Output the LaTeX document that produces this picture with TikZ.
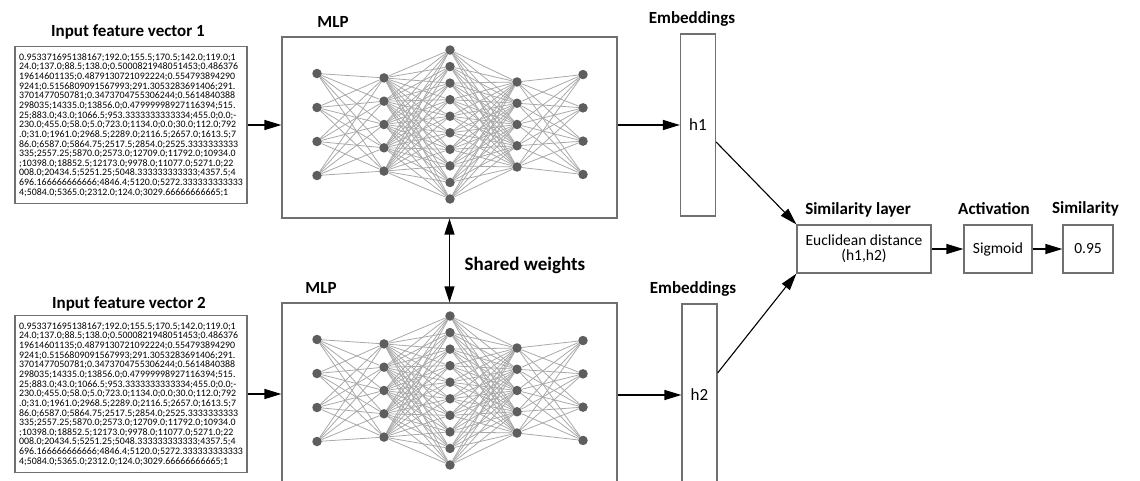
\documentclass[tikz,border=0pt]{standalone}
\usepackage{fontspec}
\setmainfont{Carlito}
\usepackage{tikz}
\usetikzlibrary{arrows.meta,positioning,backgrounds}
\definecolor{frame}{HTML}{707070}
\definecolor{neuron}{HTML}{5E5E5E}
\definecolor{synapse}{HTML}{A9A9A9}

\newcommand{\featvec}{0.953371695138167;192.0;155.5;170.5;142.0;119.0;1\\
24.0;137.0;88.5;138.0;0.5000821948051453;0.486376\\
19614601135;0.4879130721092224;0.554793894290\\
9241;0.5156809091567993;291.3053283691406;291.\\
3701477050781;0.3473704755306244;0.5614840388\\
298035;14335.0;13856.0;0.47999998927116394;515.\\
25;883.0;43.0;1066.5;953.3333333333334;455.0;0.0;-\\
230.0;455.0;58.0;5.0;723.0;1134.0;0.0;30.0;112.0;792\\
.0;31.0;1961.0;2968.5;2289.0;2116.5;2657.0;1613.5;7\\
86.0;6587.0;5864.75;2517.5;2854.0;2525.3333333333\\
335;2557.25;5870.0;2573.0;12709.0;11792.0;10934.0\\
;10398.0;18852.5;12173.0;9978.0;11077.0;5271.0;22\\
008.0;20434.5;5251.25;5048.333333333333;4357.5;4\\
696.166666666666;4846.4;5120.0;5272.333333333333\\
4;5084.0;5365.0;2312.0;124.0;3029.66666666665;1}

\begin{document}
\begin{tikzpicture}[
  x=1pt, y=-1pt,
  font=\fontsize{15.5}{18}\selectfont,
  box/.style={draw=frame,line width=1.2pt,inner sep=0pt,align=center},
  vec/.style={box,minimum width=232pt,minimum height=157pt,
              font=\fontsize{9.9}{9.64}\selectfont,align=left},
  mlp/.style={box,minimum width=335pt,minimum height=181pt},
  emb/.style={box,minimum width=35pt,minimum height=182pt,
              font=\fontsize{17}{20}\selectfont},
  blk/.style={box,minimum height=48pt},
  lbl/.style={font=\fontsize{17}{20}\selectfont\bfseries,inner sep=0pt},
  neur/.style={circle,fill=neuron,minimum size=9.5pt,inner sep=0pt},
  ar/.style={-{Triangle[length=17pt,width=10pt]},line width=1.3pt},
  dar/.style={{Triangle[length=16pt,width=10pt]}-{Triangle[length=16pt,width=10pt]},line width=1.3pt},
]
\useasboundingbox (0,0) rectangle (1140,481);

% ---- inputs
\node[lbl] (t-inp1) at (128,32) {Input feature vector 1};
\node[vec] (inp1) at (131,125) {\featvec};
\node[lbl] (t-inp2) at (129,304) {Input feature vector 2};
\node[vec] (inp2) at (131,394) {\featvec};

% ---- the two MLPs
\node[lbl] (t-mlp1) at (333,22) {MLP};
\node[mlp] (mlp1) at (449.5,127.5) {};
\node[lbl] (t-mlp2) at (321,288) {MLP};
\node[mlp] (mlp2) at (449.5,393.5) {};

\foreach \m/\cy in {1/124.5,2/390.5}{
  \foreach \l/\x/\n/\d in {1/-133/4/34,2/-66/5/23.3,3/0/10/16.55,4/67/5/21.25,5/133/4/33.3}
    \foreach \i in {1,...,\n}
      \node[neur] (n\m-\l-\i) at ({450+\x},{\cy+(\i-(\n+1)/2)*\d}) {};
  \begin{scope}[on background layer]
    \foreach \a/\na/\b/\nb in {1/4/2/5,2/5/3/10,3/10/4/5,4/5/5/4}
      \foreach \i in {1,...,\na}
        \foreach \j in {1,...,\nb}
          \draw[synapse,line width=0.8pt] (n\m-\a-\i) -- (n\m-\b-\j);
  \end{scope}
}

% ---- embeddings
\node[lbl] (t-h1) at (692,19) {Embeddings};
\node[emb] (h1) at (698,125) {h1};
\node[lbl] (t-h2) at (693,289) {Embeddings};
\node[emb] (h2) at (699.5,395) {h2};

% ---- head
\node[blk,minimum width=134pt] (sim) at (864,249) {Euclidean distance\\[-3pt](h1,h2)};
\node[lbl] (t-sim) at (858,210) {Similarity layer};
\node[blk,minimum width=68pt] (sig) at (998,249) {Sigmoid};
\node[lbl] (t-sig) at (994,209) {Activation};
\node[blk,minimum width=50pt] (out) at (1088,249) {0.95};
\node[lbl] (t-out) at (1085.5,209) {Similarity};

% ---- connectors
\draw[ar] (inp1.east) -- (inp1.east -| mlp1.west);
\draw[ar] (inp2.east) -- (inp2.east -| mlp2.west);
\draw[ar] (mlp1.east |- h1) -- (h1.west);
\draw[ar] (mlp2.east |- h2) -- (h2.west);
\draw[dar] (mlp1.south) -- (mlp2.north);
\node[lbl,font=\fontsize{19}{22}\selectfont\bfseries] (t-shared) at (525,265) {Shared weights};
\draw[ar,line width=1.1pt] ([yshift=-17pt]h1.east) -- (sim.north west);
\draw[ar,line width=1.1pt] ([yshift=22pt]h2.east) -- (sim.south west);
\draw[ar] (sim) -- (sig);
\draw[ar] (sig) -- (out);
\end{tikzpicture}
\end{document}
